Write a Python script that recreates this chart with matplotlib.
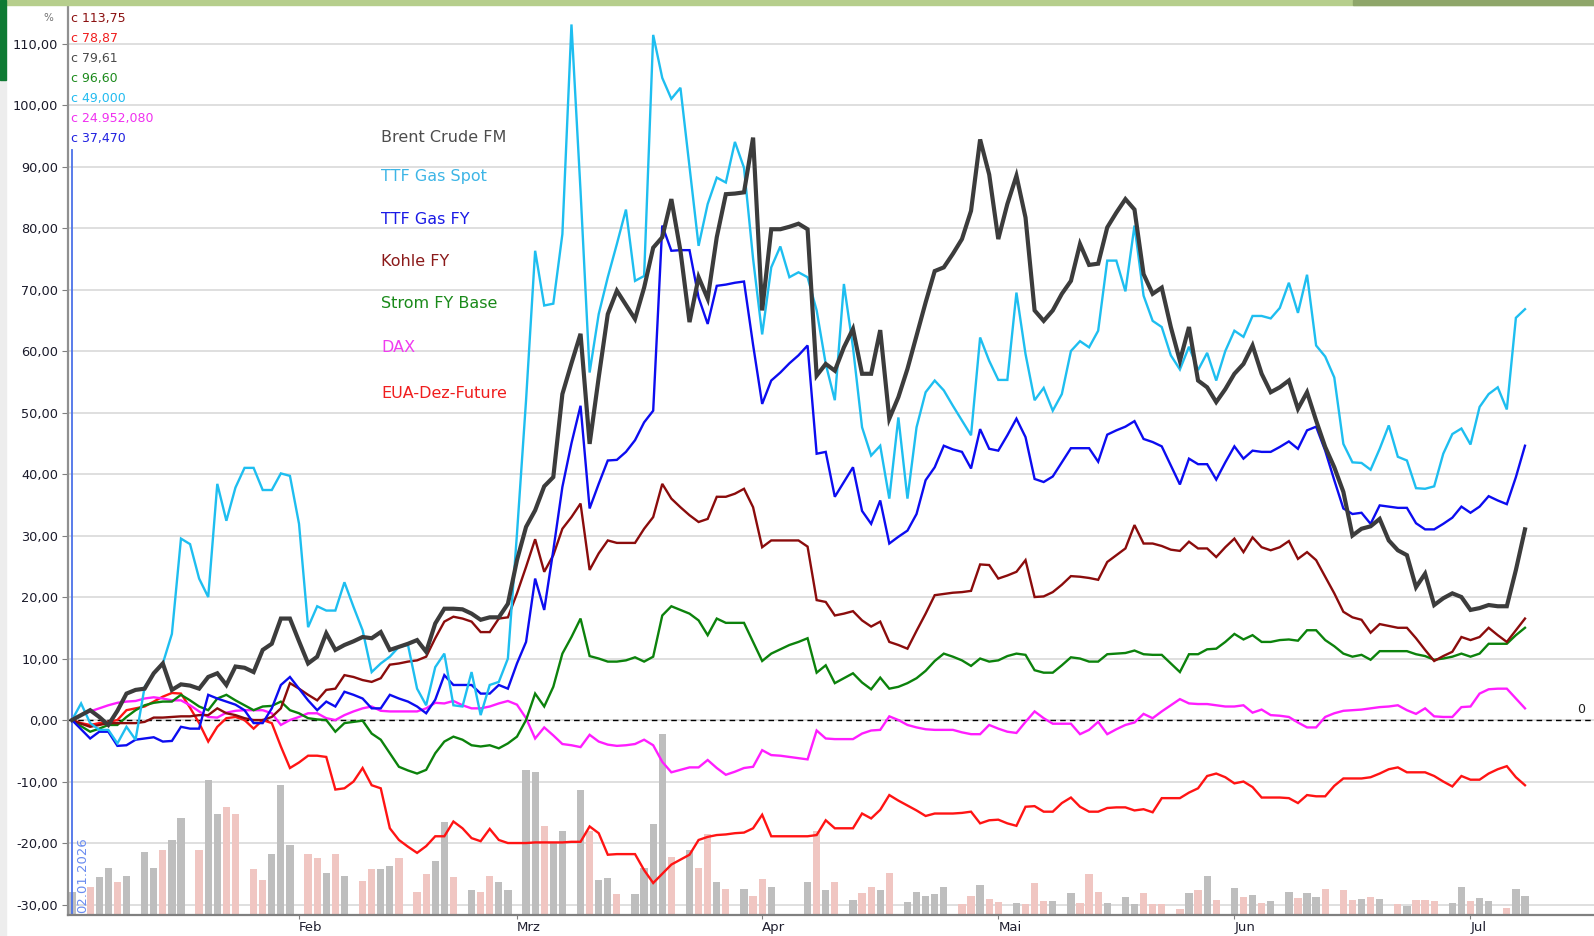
import datetime as dt
import numpy as np
import matplotlib
matplotlib.use("Agg")
import matplotlib.pyplot as plt
from matplotlib.ticker import FuncFormatter
from matplotlib.patches import Rectangle

# ---------------- data (one value per slot: Mon-Fri + one weekend slot) -------------
start_date = dt.date(2026, 1, 2)
end_date = dt.date(2026, 7, 8)
month_starts = [dt.date(2026, m, 1) for m in range(2, 8)]
month_labels = ["Feb", "Mrz", "Apr", "Mai", "Jun", "Jul"]

series_names = ["Brent Crude FM", "TTF Gas Spot", "TTF Gas FY", "Kohle FY",
                "Strom FY Base", "DAX", "EUA-Dez-Future"]
last_quotes = ["c 113,75", "c 78,87", "c 79,61", "c 96,60", "c 49,000",
               "c 24.952,080", "c 37,470"]

ttf_spot = [0, 2.7,
    -0.5, -1.6, -1.6, -3.8, -1.1, -3.2,
    5.4, 7.6, 9.2, 14, 29.5, 28.6,
    23, 20, 38.4, 32.4, 37.8, 41,
    41, 37.4, 37.4, 40.1, 39.7, 31.9,
    15.1, 18.5, 17.8, 17.8, 22.4, 18.4,
    14.6, 7.8, 9.2, 10.3, 11.9, 12.2,
    5.1, 2.4, 8.6, 10.8, 2.4, 2.2,
    7.8, 0.8, 5.7, 6.2, 10, 30.3,
    52, 76.3, 67.4, 67.7, 79, 113.1,
    86, 56.5, 66, 72, 77.4, 83,
    71.4, 72.2, 111.4, 104.4, 101, 102.8,
    90, 77.1, 83.9, 88.2, 87.4, 94,
    89.8, 75, 62.7, 73.6, 77, 72,
    72.8, 72, 66.6, 57.9, 52, 70.9,
    60.6, 47.6, 43, 44.6, 36, 49.2,
    36, 47.6, 53.3, 55.2, 53.6, 51.1,
    48.7, 46.3, 62.2, 58.4, 55.3, 55.3,
    69.5, 59.5, 52, 54, 50.3, 53,
    60, 61.6, 60.6, 63.3, 74.7, 74.7,
    69.7, 80.4, 69, 64.9, 63.9, 59.3,
    57, 60.7, 56.9, 59.7, 55.2, 60,
    63.3, 62.3, 65.7, 65.7, 65.3, 67,
    71.1, 66.2, 72.4, 60.9, 59.1, 55.7,
    44.9, 41.9, 41.8, 40.7, 44.1, 47.9,
    42.8, 42.2, 37.7, 37.6, 38, 43.3,
    46.5, 47.4, 44.8, 50.9, 53, 54.1,
    50.5, 65.4, 66.8]

brent = [0, 0.8,
    1.6, 0.5, -0.8, 1.5, 4.3, 4.9,
    5.1, 7.6, 9.2, 4.9, 5.8, 5.6,
    5.1, 7.0, 7.6, 5.7, 8.7, 8.5,
    7.8, 11.4, 12.4, 16.5, 16.5, 12.8,
    9.2, 10.3, 14.1, 11.4, 12.2, 12.8,
    13.5, 13.3, 14.3, 11.4, 11.9, 12.4,
    13, 11.1, 15.7, 18.1, 18.1, 18,
    17.3, 16.3, 16.7, 16.7, 18.9, 26,
    31.4, 34.1, 38, 39.5, 53, 58,
    62.8, 44.9, 55.7, 66, 69.8, 67.5,
    65.2, 70.3, 76.8, 78.5, 84.7, 76.3,
    64.7, 72, 68.5, 78.5, 85.5, 85.6,
    85.8, 94.7, 66.6, 79.8, 79.8, 80.2,
    80.7, 79.8, 56, 57.9, 56.8, 60.6,
    63.6, 56.3, 56.3, 63.4, 49, 52.5,
    57.1, 62.5, 67.9, 73, 73.6, 75.8,
    78.2, 82.8, 94.4, 88.7, 78.2, 83.9,
    88.5, 81.7, 66.6, 64.9, 66.6, 69.3,
    71.4, 77.4, 74, 74.2, 80.1, 82.5,
    84.7, 83, 72.5, 69.3, 70.3, 63.9,
    58.4, 63.9, 55.2, 54.1, 51.7, 53.8,
    56.3, 57.9, 60.9, 56.3, 53.3, 54.1,
    55.2, 50.6, 53.3, 48.7, 44.4, 41.1,
    37.1, 30, 31.1, 31.5, 32.7, 29.2,
    27.6, 26.8, 21.6, 23.8, 18.7, 19.8,
    20.6, 20, 17.9, 18.2, 18.7, 18.5,
    18.5, 24.4, 31]

ttf_fy = [0, -1.5,
    -3, -1.9, -1.9, -4.2, -4.1, -3.2,
    -3, -2.8, -3.5, -3.4, -1.1, -1.4,
    -1.4, 4.1, 3.5, 3, 2.5, 1.6,
    -0.5, -0.5, 1.9, 5.7, 7, 5.1,
    3.2, 1.6, 3, 2.2, 4.6, 4.1,
    3.5, 1.9, 1.9, 4.1, 3.5, 3,
    2.2, 1.1, 3.3, 7.3, 5.7, 5.7,
    5.7, 4.3, 4.3, 5.7, 5.1, 9.2,
    12.7, 23, 17.9, 27.6, 37.9, 45,
    51.1, 34.4, 38.4, 42.2, 42.3, 43.6,
    45.5, 48.4, 50.3, 80.4, 76.3, 76.4,
    76.4, 68.7, 64.4, 70.6, 70.8, 71.1,
    71.3, 61, 51.4, 55.2, 56.5, 58,
    59.3, 60.9, 43.3, 43.6, 36.3, 38.7,
    41.1, 34, 31.9, 35.7, 28.7, 29.8,
    30.8, 33.5, 39, 41.1, 44.6, 44,
    43.6, 40.9, 47.3, 44.1, 43.8, 46.3,
    49, 46, 39.2, 38.7, 39.6, 41.9,
    44.2, 44.2, 44.2, 42, 46.4, 47.1,
    47.7, 48.6, 45.7, 45.2, 44.5, 41.4,
    38.3, 42.5, 41.6, 41.6, 39.1, 41.9,
    44.5, 42.5, 43.8, 43.6, 43.6, 44.4,
    45.3, 44.1, 47.1, 47.7, 43.8, 39,
    34.4, 33.5, 33.7, 31.9, 34.9, 34.7,
    34.5, 34.5, 32, 31, 31, 31.9,
    32.9, 34.7, 33.7, 34.7, 36.4, 35.7,
    35.1, 39.5, 44.6]

kohle = [0, -0.6,
    -1.1, -0.8, -0.5, -0.5, -0.5, -0.5,
    -0.3, 0.4, 0.4, 0.5, 0.6, 0.6,
    0.8, 0.8, 1.9, 1.1, 0.8, 0.3,
    0, 0, 0.5, 1.9, 6, 5.1,
    4.1, 3.2, 4.9, 5.1, 7.3, 7,
    6.5, 6.2, 6.8, 9, 9.2, 9.5,
    9.7, 10.3, 13.3, 16, 16.8, 16.5,
    16, 14.3, 14.3, 16.5, 16.7, 20.6,
    24.9, 29.4, 24.1, 26.8, 31.1, 33,
    35.2, 24.4, 27.1, 29.2, 28.8, 28.8,
    28.8, 31.1, 33, 38.4, 36, 34.6,
    33.3, 32.2, 32.7, 36.3, 36.3, 36.8,
    37.6, 34.6, 28.1, 29.2, 29.2, 29.2,
    29.2, 28.2, 19.5, 19.2, 17, 17.3,
    17.7, 16.2, 15.2, 16, 12.7, 12.2,
    11.6, 14.5, 17.3, 20.3, 20.5, 20.7,
    20.8, 21, 25.3, 25.2, 23, 23.5,
    24.1, 26, 20, 20.1, 20.8, 22,
    23.4, 23.3, 23.1, 22.8, 25.7, 26.8,
    27.9, 31.7, 28.7, 28.7, 28.3, 27.7,
    27.5, 29, 27.9, 27.9, 26.5, 28.1,
    29.5, 27.3, 29.7, 28.1, 27.6, 28.1,
    29.1, 26.2, 27.3, 26, 23.3, 20.6,
    17.6, 16.7, 16.3, 14.2, 15.6, 15.3,
    15, 15, 13.3, 11.4, 9.6, 10.4,
    11.1, 13.5, 13, 13.5, 15, 13.8,
    12.7, 14.6, 16.5]

strom = [0, -1,
    -1.9, -1.4, -0.8, -0.8, 0.5, 1.6,
    2.4, 2.8, 3, 3, 4.1, 3.2,
    2.2, 1.6, 3.5, 4.1, 3.2, 2.4,
    1.6, 2.2, 2.3, 3, 1.6, 1.1,
    0.3, 0.1, 0, -1.9, -0.5, -0.3,
    -0.1, -2.2, -3.2, -5.4, -7.6, -8.2,
    -8.7, -8.1, -5.4, -3.5, -2.7, -3.2,
    -4.1, -4.3, -4.1, -4.6, -3.8, -2.7,
    0, 4.3, 2.2, 5.4, 10.8, 13.5,
    16.5, 10.4, 10, 9.5, 9.5, 9.7,
    10.2, 9.5, 10.3, 17, 18.5, 17.9,
    17.3, 16.2, 13.8, 16.5, 15.8, 15.8,
    15.8, 12.7, 9.6, 10.8, 11.5, 12.2,
    12.7, 13.3, 7.7, 8.9, 6, 6.8,
    7.6, 6.1, 5, 6.9, 5.1, 5.4,
    6, 6.8, 8, 9.6, 10.8, 10.3,
    9.7, 8.8, 10, 9.5, 9.7, 10.4,
    10.8, 10.6, 8.1, 7.7, 7.7, 8.9,
    10.2, 10, 9.5, 9.5, 10.7, 10.8,
    10.9, 11.3, 10.7, 10.6, 10.6, 9.2,
    7.8, 10.7, 10.7, 11.5, 11.6, 12.7,
    14, 13.1, 13.8, 12.7, 12.7, 13,
    13.1, 12.9, 14.6, 14.6, 13, 12,
    10.8, 10.3, 10.6, 9.8, 11.2, 11.2,
    11.2, 11.2, 10.7, 10.4, 9.8, 10,
    10.3, 10.8, 10.3, 10.8, 12.4, 12.4,
    12.4, 13.8, 15]

dax = [0, 0.8,
    1.4, 1.9, 2.4, 2.8, 3, 3.1,
    3.5, 3.7, 3.5, 3.2, 3.2, 2.4,
    1.4, 0.5, 0.4, 1.2, 1.5, 1.6,
    1.6, 1.6, 1.1, -0.8, 0, 0.5,
    1.1, 1.1, 0.3, 0, 0.8, 1.4,
    1.9, 2.2, 1.5, 1.4, 1.4, 1.4,
    1.4, 1.9, 2.8, 2.7, 3.1, 2.4,
    1.9, 1.9, 2.2, 2.7, 3.1, 2.5,
    0.3, -3, -1.2, -2.5, -3.9, -4.1,
    -4.4, -2.4, -3.5, -4, -4.2, -4.1,
    -3.9, -3.2, -4.1, -6.8, -8.5, -8.1,
    -7.7, -7.7, -6.5, -7.8, -8.9, -8.4,
    -7.8, -7.6, -4.9, -5.7, -5.8, -6,
    -6.2, -6.4, -1.7, -3, -3.1, -3.1,
    -3.1, -2.2, -1.7, -1.6, 0.6, 0,
    -0.8, -1.2, -1.5, -1.6, -1.6, -1.6,
    -2, -2.3, -2.3, -0.8, -1.4, -1.9,
    -2.1, -0.3, 1.4, 0.3, -0.6, -0.6,
    -0.6, -2.3, -1.6, -0.3, -2.3, -1.5,
    -0.8, -0.4, 1, 0.3, 1.4, 2.4,
    3.4, 2.7, 2.6, 2.6, 2.4, 2.2,
    2.2, 2.4, 1.2, 1.7, 0.8, 0.7,
    0.5, -0.4, -1.2, -1.2, 0.5, 1.1,
    1.5, 1.6, 1.7, 1.9, 2.1, 2.2,
    2.4, 1.6, 1, 1.9, 0.6, 0.5,
    0.5, 2.1, 2.2, 4.3, 5, 5.1,
    5.1, 3.5, 1.9]

eua = [0, -0.5,
    -0.8, -0.5, -0.3, 0, 1.6, 1.9,
    2.2, 3, 3.8, 4.4, 4.3, 2,
    -0.5, -3.5, -1.1, 0.3, 0.5, 0,
    -1.4, 0, -0.5, -4.3, -7.8, -6.9,
    -5.8, -5.8, -6, -11.3, -11.1, -10,
    -7.8, -10.6, -11.1, -17.6, -19.5, -20.6,
    -21.6, -20.5, -18.9, -18.9, -16.5, -17.6,
    -19.2, -19.7, -17.7, -19.5, -20, -20,
    -20, -19.9, -19.9, -19.9, -19.9, -19.8,
    -19.8, -17.3, -18.4, -21.9, -21.8, -21.8,
    -21.8, -24.4, -26.5, -25, -23.5, -22.7,
    -21.9, -19.5, -19, -18.7, -18.6, -18.4,
    -18.3, -17.6, -15.4, -18.9, -18.9, -18.9,
    -18.9, -18.9, -18.7, -16.3, -17.6, -17.6,
    -17.6, -15.2, -16, -14.6, -12.2, -13.1,
    -13.9, -14.7, -15.6, -15.2, -15.2, -15.2,
    -15.1, -14.9, -16.8, -16.3, -16.2, -16.8,
    -17.2, -14.1, -14, -14.9, -14.9, -13.5,
    -12.6, -14.1, -14.9, -14.9, -14.3, -14.2,
    -14.2, -14.7, -14.5, -15, -12.7, -12.7,
    -12.7, -11.8, -11.1, -9.1, -8.7, -9.3,
    -10.3, -10, -10.9, -12.6, -12.6, -12.6,
    -12.7, -13.5, -12.2, -12.4, -12.4, -10.7,
    -9.5, -9.5, -9.5, -9.3, -8.7, -8,
    -7.7, -8.5, -8.5, -8.5, -9.1, -10,
    -10.8, -9.1, -9.7, -9.7, -8.7, -8,
    -7.5, -9.3, -10.6]

# volume bars (None = no trading), kind: g = grey, p = pink, - = none
volume = [3.8, None,
    4.5, 6.2, 7.7, 5.3, 6.4, None,
    10.3, 7.7, 10.5, 12.2, 15.7, None,
    10.5, 22, 16.5, 17.6, 16.4, None,
    7.5, 5.7, 9.9, 21.2, 11.4, None,
    9.9, 9.2, 6.8, 9.9, 6.4, None,
    5.6, 7.5, 7.5, 7.9, 9.2, None,
    3.8, 6.7, 8.8, 15.1, 6.2, None,
    4.1, 3.8, 6.4, 5.3, 4, None,
    23.6, 23.3, 14.4, 11.8, 13.7, None,
    20.4, 13.6, 5.7, 6, 3.4, None,
    3.4, 7.6, 14.8, 29.5, 9.5, None,
    10.5, 7.7, 13.1, 5.3, 4.2, None,
    4.2, 3.1, 5.9, 4.6, None, None,
    None, 5.4, 13.7, 4, 5.3, None,
    2.5, 3.6, 4.6, 4, 6.8, None,
    2.1, 3.8, 3.1, 3.4, 4.6, None,
    1.8, 3.1, 4.8, 2.6, 2.1, None,
    2.0, 1.8, 5.2, 2.3, 2.3, None,
    3.6, 2, 6.6, 3.7, 2, None,
    2.9, 1.8, 3.6, 1.8, 1.8, None,
    1, 3.6, 4, 6.4, 2.5, None,
    4.4, 2.9, 3.3, 2, 2.3, None,
    3.8, 2.7, 3.6, 2.9, 4.2, None,
    4, 2.5, 2.6, 2.9, 2.6, None,
    1.8, 1.4, 2.5, 2.5, 2.3, None,
    2, 4.6, 2.3, 2.7, 2.3, None,
    1.1, 4.2, 3.1]
volume_kind = ("g-" "pggpg-" "ggpgg-" "pggpp-" "ppggg-" "ppgpg-" "ppggp-" "ppggp-"
               "gppgg-" "ggpgg-" "gpggp-" "ggggp-" "gppgp-" "gppg--" "-gpgp-"
               "gppgp-" "ggggg-" "ppgpp-" "gpppg-" "gpppg-" "ggppp-" "pgpgp-"
               "gpgpg-" "gpggp-" "ppgpg-" "pgppp-" "ggpgg-" "pgg")

# ---------------- helpers ----------------
MONDAY0 = dt.date(2025, 12, 29)


def slot(d):
    """x slot: 5 weekday slots + 1 weekend slot per week"""
    days = (d - MONDAY0).days
    return 6 * (days // 7) + min(d.weekday(), 5)


def de(v):
    return f"{v:.2f}".replace(".", ",")


W, H = 1594, 936
fig = plt.figure(figsize=(W / 100, H / 100), dpi=100)
fig.patch.set_facecolor("white")

# window decorations
fig.patches.append(Rectangle((0, 1 - 5 / H), 1, 5 / H, transform=fig.transFigure,
                             color="#B6CE8C", zorder=0))
fig.patches.append(Rectangle((1353 / W, 1 - 5 / H), 1 - 1353 / W, 5 / H,
                             transform=fig.transFigure, color="#8FA66A", zorder=0))
fig.patches.append(Rectangle((0, 0), 6 / W, 1 - 80 / H, transform=fig.transFigure,
                             color="#EDEDED", zorder=0))
fig.patches.append(Rectangle((0, 1 - 80 / H), 6 / W, 80 / H, transform=fig.transFigure,
                             color="#0E7A33", zorder=0))

ax = fig.add_axes([68 / W, 21 / H, (W - 68) / W, 910 / H])
ymin, ymax = -31.7, 116.26
x0 = slot(start_date)
n = len(brent)
x = np.arange(x0, x0 + n)
ax.set_xlim(x0 - 0.44, x0 + 167.6)
ax.set_ylim(ymin, ymax)

# grid
ax.set_yticks(np.arange(-30, 111, 10))
ax.yaxis.set_major_formatter(FuncFormatter(lambda v, p: de(v)))
ax.yaxis.grid(True, color="#DCDCDC", lw=1.3)
ax.set_axisbelow(True)

# volume bars
vol = np.array([np.nan if v is None else v for v in volume], dtype=float)
kind_col = {"g": "#BEBEBE", "p": "#F0C6C2"}
mask = ~np.isnan(vol)
cols = [kind_col[k] for k, m in zip(volume_kind, mask) if m]
ax.bar(x[mask], vol[mask], bottom=ymin, width=0.8, color=cols, linewidth=0, zorder=1.2)

# zero line
ax.axhline(0, color="black", lw=1.0, ls=(0, (4, 3)), zorder=2)
ax.text(x0 + 166.2, 0.6, "0", fontsize=9, color="#202020", ha="center", va="bottom")

# start marker
ax.axvline(x0, ymin=0, ymax=(92.7 - ymin) / (ymax - ymin), color="#4C72E8", lw=1.3, zorder=2.5)
ax.text(x0 + 0.5, -19.0, start_date.strftime("%d.%m.%Y"), rotation=90, fontsize=9.5,
        color="#6A8CF0", ha="left", va="top", zorder=3, clip_on=True)

# series
line_specs = [
    (eua, "#FF1414", 1.7),
    (dax, "#FF1EFF", 1.7),
    (strom, "#0C820C", 1.7),
    (kohle, "#8B0C0C", 1.7),
    (ttf_fy, "#0C0CF0", 1.7),
    (ttf_spot, "#1EBEF0", 1.7),
    (brent, "#3C3C3C", 3.0),
]
for vals, c, lw in line_specs:
    ax.plot(x, vals, color=c, lw=lw, zorder=3, solid_joinstyle="miter")

# x axis months
ax.set_xticks([slot(d) for d in month_starts])
ax.set_xticklabels(month_labels, ha="left")
ax.tick_params(axis="x", length=3, color="#808080", labelsize=9.5, pad=1,
               labelcolor="#202030")
ax.tick_params(axis="y", length=4, color="#808080", labelsize=9.3, pad=3,
               labelcolor="#1A1A2A")

for s in ["right"]:
    ax.spines[s].set_visible(False)
ax.spines["top"].set_color("#A8A8A8")
ax.spines["top"].set_linewidth(1.2)
ax.spines["left"].set_color("#909090")
ax.spines["left"].set_linewidth(1.6)
ax.spines["bottom"].set_color("#808080")
ax.spines["bottom"].set_linewidth(1.6)

# "%" label
fig.text(48 / W, 1 - 18 / H, "%", fontsize=7.5, color="#707070", ha="center", va="center")

# last quotes (top left)
quote_colors = ["#8B1010", "#F01E1E", "#4A4A4A", "#1C8A1C", "#22BBF0", "#F030F0", "#2020E0"]
for i, (t, c) in enumerate(zip(last_quotes, quote_colors)):
    fig.text(71 / W, 1 - (18.3 + 20 * i) / H, t, fontsize=9, color=c, ha="left", va="center")

# legend texts
legend_colors = ["#4D4D4D", "#3DB5E6", "#1A1AE6", "#8B1A1A", "#1A8A1A", "#F03CF0", "#F01E1E"]
legend_y = [137, 176, 220, 261, 304, 347, 393]
for name, c, yy in zip(series_names, legend_colors, legend_y):
    fig.text(381 / W, 1 - yy / H, name, fontsize=11.5, color=c, ha="left", va="center")

fig.savefig("out.png", dpi=100)
